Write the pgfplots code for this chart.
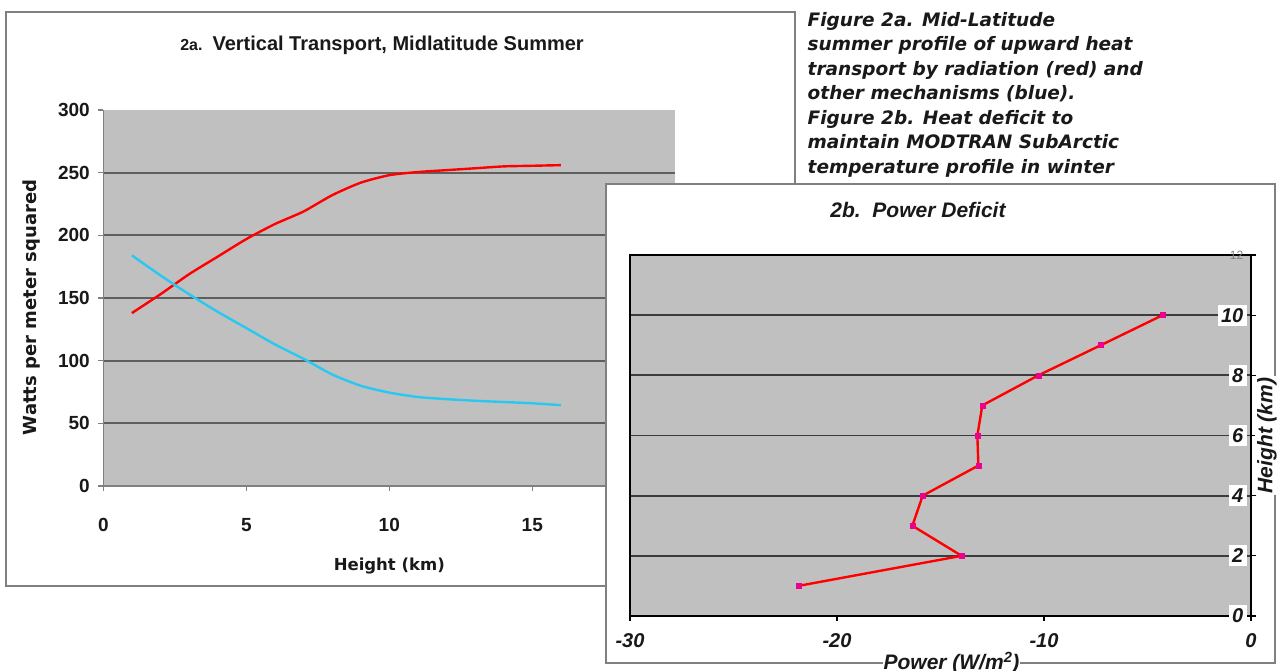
\documentclass[border=0pt]{standalone}
\usepackage{fontspec}
\setmainfont{Liberation Sans}
\newfontfamily\dejavu{DejaVu Sans}
\usepackage{pgfplots}
\pgfplotsset{compat=1.18}

\definecolor{plotgrey}{RGB}{192,192,192}
\definecolor{framegrey}{RGB}{128,128,128}
\definecolor{gridA}{RGB}{95,95,95}
\definecolor{gridB}{RGB}{60,60,60}
\definecolor{cyanline}{RGB}{40,200,240}
\definecolor{txt}{RGB}{25,25,25}
\newcommand{\fs}[1]{\fontsize{#1}{#1}\selectfont}

\begin{document}
\begin{tikzpicture}[x=1pt,y=1pt]
\path[use as bounding box] (0,0) rectangle (1282,671);
\clip (0,0) rectangle (1282,671);
\fill[white] (0,0) rectangle (1282,671);

% ---------- 2a ----------
\draw[framegrey, line width=1.5pt, fill=white] (6,85) rectangle (795,659);
\node[font=\bfseries\fs{20}, text=txt] at (382,626) {{\fs{16}2a.}\hspace{10pt}Vertical Transport, Midlatitude Summer};

\begin{axis}[
  at={(103.3pt,185pt)}, anchor=south west,
  scale only axis, width=572pt, height=376pt,
  xmin=0, xmax=20, ymin=0, ymax=300,
  axis x line*=bottom, axis y line*=left,
  axis line style={framegrey, line width=1.5pt},
  axis background/.style={fill=plotgrey},
  xtick={0,5,10,15,20}, xticklabels={0,5,10,15,20},
  ytick={0,50,100,150,200,250}, yticklabels={0,50,100,150,200,250},
  extra y ticks={300}, extra y tick labels={300}, extra y tick style={grid=none},
  ymajorgrids, major grid style={gridA, line width=2pt},
  tick align=outside, major tick length=5pt, tick style={framegrey, line width=1.2pt},
  ticklabel style={font=\bfseries\fs{19}, text=txt},
  xticklabel style={yshift=-24pt},
  yticklabel style={xshift=-5pt},
  xlabel={Height (km)},
  xlabel style={font=\dejavu\bfseries\fs{16.5}, text=txt, at={(axis description cs:0.5,-0.212)}, anchor=center},
  ylabel={Watts per meter squared},
  ylabel style={font=\dejavu\bfseries\fs{18}, text=txt, at={(axis description cs:-0.126,0.475)}, anchor=center},
]
\addplot[red, line width=2.4pt, smooth, tension=0.4] coordinates {
(1,138) (2,153) (3,169) (4,183) (5,197) (6,209) (7,219) (8,232) (9,242) (10,248)
(11,250.5) (12,252) (13,253.5) (14,255) (15,255.5) (16,256)};
\addplot[cyanline, line width=2.4pt, smooth, tension=0.4] coordinates {
(1,184) (2,168) (3,153) (4,139) (5,126) (6,113) (7,101.5) (8,89) (9,80) (10,74.5)
(11,71) (12,69.3) (13,68) (14,67) (15,66) (16,64.5)};
\end{axis}

% ---------- 2b ----------
\draw[framegrey, line width=1.5pt, fill=white] (606,8) rectangle (1275,487);
\node[font=\bfseries\itshape\fs{21}, text=txt] at (918,461) {2b.\ \ Power Deficit};

\begin{axis}[
  at={(630pt,55pt)}, anchor=south west,
  scale only axis, width=621pt, height=361pt,
  xmin=-30, xmax=0, ymin=0, ymax=12,
  axis background/.style={fill=plotgrey},
  axis line style={black, line width=2.5pt},
  xtick={-30,-20,-10,0}, xticklabels={-30,-20,-10,0},
  ytick={0,2,4,6,8,10}, yticklabels={0,2,4,6,8,10},
  extra y ticks={12}, extra y tick labels={12},
  extra y tick style={grid=none, yticklabel style={fill=none, text=gray, font=\fs{12}}},
  ymajorgrids, major grid style={gridB, line width=1.8pt},
  xtick pos=left, ytick pos=right, yticklabel pos=right,
  tick align=outside, major tick length=5pt, tick style={black, line width=1.2pt},
  ticklabel style={font=\bfseries\itshape\fs{20}, text=txt},
  xticklabel style={yshift=-9pt},
  yticklabel style={anchor=east, fill=white, inner sep=3.5pt, xshift=-9pt},
  xlabel={Power (W/m\textsuperscript{2})},
  xlabel style={font=\bfseries\itshape\fs{21}, text=txt, at={(rel axis cs:0.5,0)}, anchor=north, yshift=-35pt, xshift=11pt, fill=white, inner sep=1pt},
  ylabel={Height (km)},
  ylabel style={font=\bfseries\itshape\fs{21}, text=txt, at={(axis description cs:1.0065,0.5)}, anchor=north, rotate=0, fill=white, inner sep=2pt},
]
\addplot[red, line width=2.4pt, mark=square*, mark size=2.5pt,
  mark options={fill=magenta, draw=magenta, line width=0.5pt}] coordinates {
(-21.87,1) (-13.98,2) (-16.36,3) (-15.86,4) (-13.17,5) (-13.22,6) (-12.98,7)
(-10.27,8) (-7.26,9) (-4.27,10)};
\end{axis}

% ---------- caption ----------
\begin{scope}[every node/.style={anchor=base west, font=\dejavu\bfseries\itshape\fs{18.5}, text=txt, inner sep=0pt}]
\node at (807.5,644.5) {Figure 2a. Mid-Latitude};
\node at (807.5,620) {summer profile of upward heat};
\node at (807.5,595.5) {transport by radiation (red) and};
\node at (807.5,571) {other mechanisms (blue).};
\node at (807.5,546.5) {Figure 2b. Heat deficit to};
\node at (807.5,522) {maintain MODTRAN SubArctic};
\node at (807.5,497.5) {temperature profile in winter};
\end{scope}
\end{tikzpicture}
\end{document}
